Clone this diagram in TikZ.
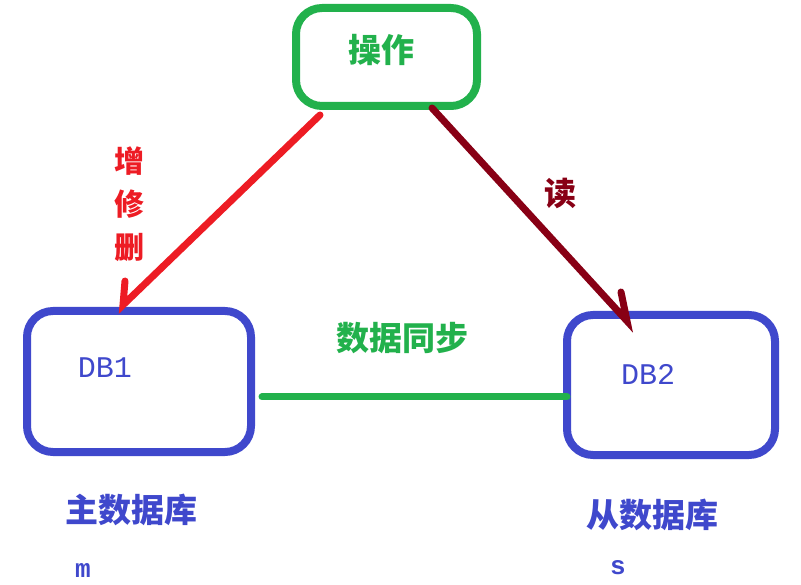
\documentclass[tikz,border=0pt]{standalone}
\usepackage{fontspec}
\newfontfamily\cjk{Noto Sans CJK SC}
\newfontfamily\latinmono{Liberation Mono}
\definecolor{pgreen}{HTML}{22B14C}
\definecolor{pred}{HTML}{ED1C24}
\definecolor{pdark}{HTML}{880015}
\definecolor{pblue}{HTML}{3F48CC}
\begin{document}
\begin{tikzpicture}[
  x=1pt, y=-1pt,
  box/.style={draw, line width=8pt, rounded corners=26pt, inner sep=0pt},
  zh/.style={font=\cjk\bfseries\fontsize{33}{40}\selectfont, inner sep=0pt},
  en/.style={font=\latinmono\fontsize{30}{36}\selectfont, inner sep=0pt, text=pblue},
  small/.style={font=\latinmono\bfseries\fontsize{26}{30}\selectfont, inner sep=0pt, text=pblue, anchor=base},
  wire/.style={line width=7pt, line cap=round}
]
  \useasboundingbox (0,0) rectangle (801,585);
  % boxes
  \node[box, draw=pgreen, minimum width=181pt, minimum height=98pt] (op) at (386.5,57) {};
  \node[box, draw=pblue, minimum width=224pt, minimum height=141pt] (db1) at (139,381.5) {};
  \node[box, draw=pblue, minimum width=208pt, minimum height=140pt] (db2) at (671,385) {};

  % texts
  \node[zh, text=pgreen] (optext) at (381,50) {操作};
  \node[en] (db1text) at (105,368) {DB1};
  \node[en] (db2text) at (648,374) {DB2};
  \node[zh, text=pblue] (master) at (131,510) {主数据库};
  \node[zh, text=pblue] (slave) at (652,515) {从数据库};
  \node[small] (mtext) at (83,577) {m};
  \node[small] (stext) at (618,574) {s};
  \node[zh, text=pred, align=center, font=\cjk\bfseries\fontsize{30}{43}\selectfont] (write) at (129,204) {增\\修\\删};
  \node[zh, text=pdark, font=\cjk\bfseries\fontsize{32}{38}\selectfont] (read) at (560,193) {读};
  \node[zh, text=pgreen] (sync) at (402,338) {数据同步};

  % connectors
  \coordinate (w0) at (320,115);
  \coordinate (w1) at (123,305);
  \draw[wire, pred] (w0) -- (w1) -- ++(2,-24);
  \coordinate (r0) at (432,108);
  \coordinate (r1) at (627,321);
  \draw[wire, pdark] (r0) -- (r1) -- ++(-6,-29);
  \coordinate (s0) at (262,397);
  \coordinate (s1) at (567,397);
  \draw[wire, pgreen] (s0) -- (s1);
\end{tikzpicture}
\end{document}
